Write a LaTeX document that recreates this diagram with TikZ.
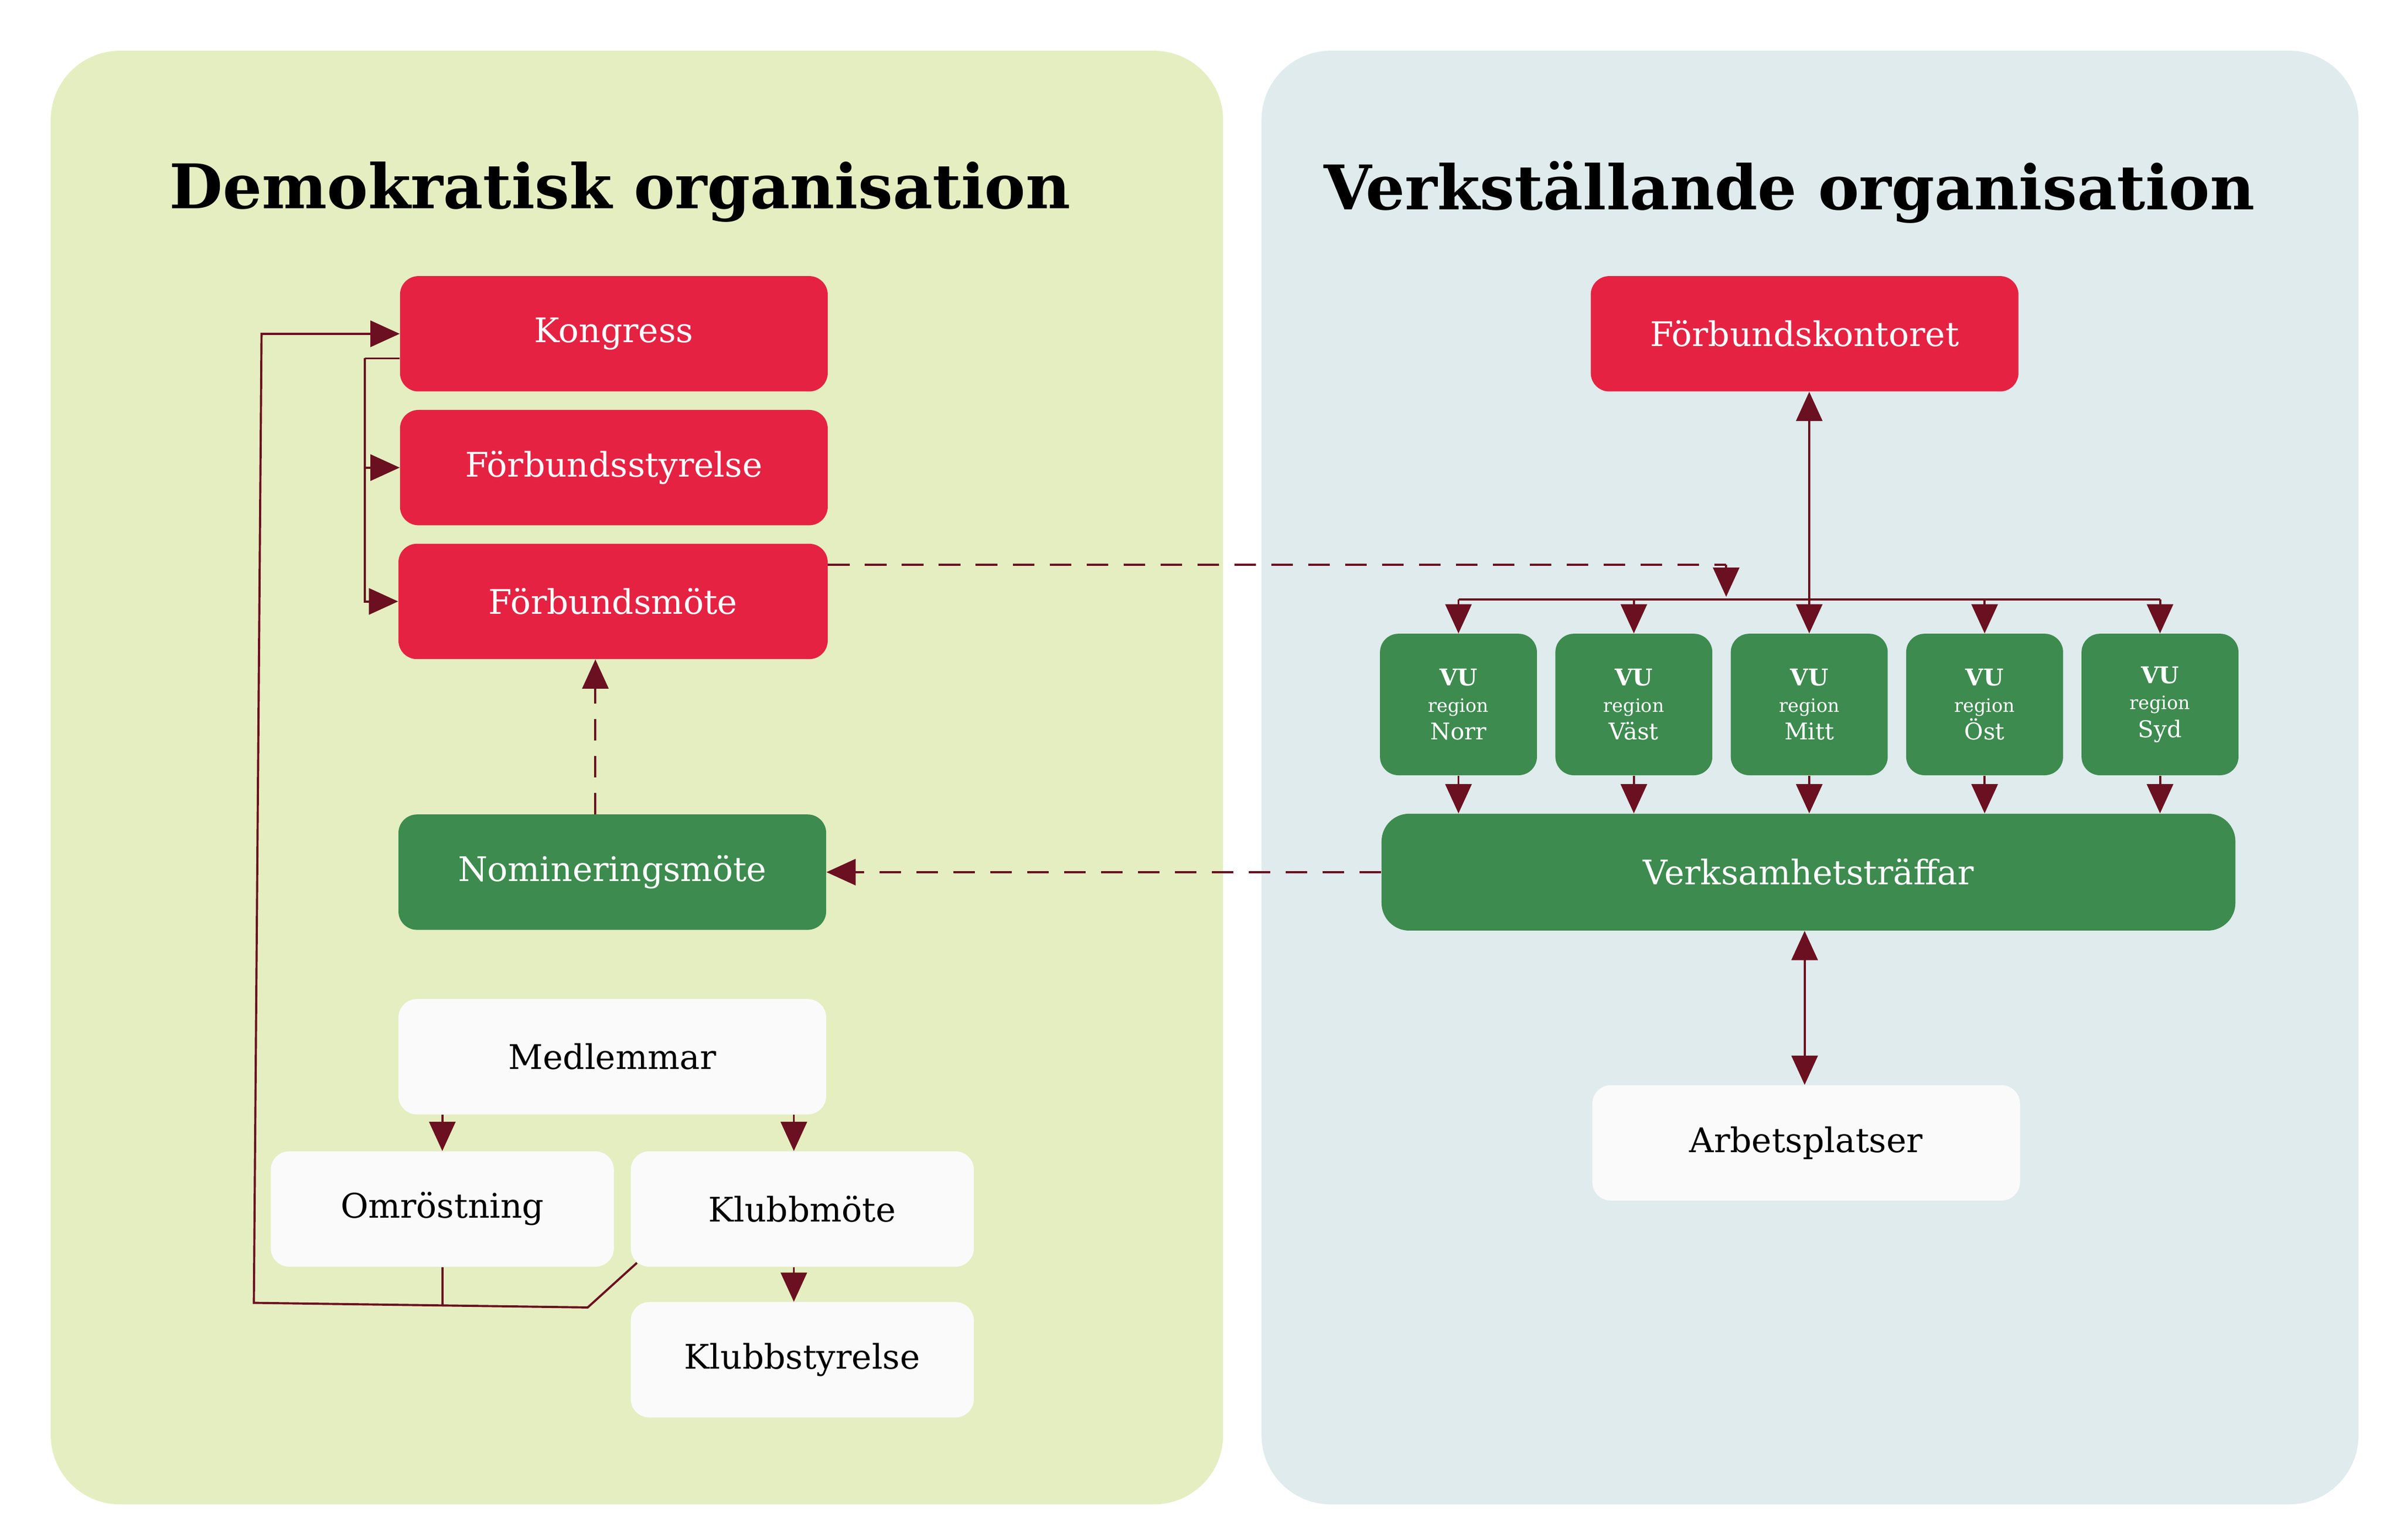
\documentclass[tikz,border=0pt]{standalone}
\usepackage{fontspec}
\setmainfont{DejaVu Serif}
\usetikzlibrary{arrows.meta,calc}
\definecolor{lg}{HTML}{E5EEC1}
\definecolor{lb}{HTML}{DFEBEC}
\definecolor{rd}{HTML}{E62243}
\definecolor{gr}{HTML}{3D8B4F}
\definecolor{wh}{HTML}{FAFAFA}
\definecolor{ln}{HTML}{6B1020}
\begin{document}
\begin{tikzpicture}[x=1pt,y=-1pt,
  box/.style={rounded corners=12pt,inner sep=0pt,anchor=center,font=\fontsize{22}{26}\selectfont},
  red/.style={box,fill=rd,text=white},
  grn/.style={box,fill=gr,text=white},
  wht/.style={box,fill=wh,text=black},
  con/.style={draw=ln,line width=1.4pt},
  arr/.style={con,-{Triangle[length=19pt,width=17pt]}},
  dsh/.style={arr,dash pattern=on 14pt off 10pt},
]
\useasboundingbox (0,0) rectangle (1560,1001);
\fill[white] (0,0) rectangle (1560,1001);
\fill[lg,rounded corners=45pt] (33,33) rectangle (795,978);
\fill[lb,rounded corners=45pt] (820,33) rectangle (1533,978);
\node[font=\bfseries\fontsize{40}{46}\selectfont] (t1) at (403,125) {Demokratisk organisation};
\node[font=\bfseries\fontsize{40}{46}\selectfont] (t2) at (1163,125) {Verkställande organisation};

\node[red,minimum width=278pt,minimum height=75pt] (kon) at (399,217) {Kongress};
\node[red,minimum width=278pt,minimum height=75pt] (fst) at (399,304) {Förbundsstyrelse};
\node[red,minimum width=279pt,minimum height=75pt] (fm) at (398.5,391) {Förbundsmöte};
\node[grn,minimum width=278pt,minimum height=75pt] (nom) at (398,567) {Nomineringsmöte};
\node[wht,minimum width=278pt,minimum height=75pt] (med) at (398,687) {Medlemmar};
\node[wht,minimum width=223pt,minimum height=75pt] (omr) at (287.5,786) {Omröstning};
\node[wht,minimum width=223pt,minimum height=75pt] (klm) at (521.5,786) {Klubbmöte};
\node[wht,minimum width=223pt,minimum height=75pt] (kls) at (521.5,884) {Klubbstyrelse};

\node[red,minimum width=278pt,minimum height=75pt] (fk) at (1173,217) {Förbundskontoret};
\foreach \n/\x/\t in {a/948/Norr,b/1062/Väst,c/1176/Mitt,d/1290/Öst,e/1404/Syd}{
  \node[grn,minimum width=102pt,minimum height=92pt,align=center,font=\fontsize{15}{19}\selectfont] (vu\n) at (\x,458)
   {\textbf{VU}\\[-2pt]{\fontsize{12}{15}\selectfont region}\\[-1pt]\t};
}
\node[grn,minimum width=555pt,minimum height=76pt,rounded corners=18pt] (vt) at (1175.5,567) {Verksamhetsträffar};
\node[wht,minimum width=278pt,minimum height=75pt] (arb) at (1174,743) {Arbetsplatser};

% left connectors
\coordinate (j1) at (237,233);
\coordinate (j2) at (237,304);
\draw[con] (kon.west|-j1) -- (j1);
\draw[arr] (j1) |- (fm.west);
\draw[arr] (j2) -- (fst.west);
\draw[arr] (med.south-|omr) -- (omr.north);
\draw[arr] ($(med.south)+(118,0)$) -- ($(klm.north)+(-5.5,0)$);
\draw[arr] ($(klm.south)+(-5.5,0)$) -- ($(kls.north)+(-5.5,0)$);
\coordinate (b0) at (414,821);
\coordinate (b1) at (382,850);
\coordinate (b2) at (165,847);
\coordinate (b3) at (170,217);
\draw[con] (omr.south) -- ++(0,25);
\draw[arr] (b0) -- (b1) -- (b2) -- (b3) -- (kon.west);
\draw[dsh] ($(nom.north)+(-11,0)$) -- ($(fm.south)+(-11.5,0)$);
\draw[dsh] (vt.west) -- (nom.east);
\coordinate (dj) at (1122,367);
\draw[con,dash pattern=on 14pt off 10pt] (fm.east|-dj) -- (dj);
\draw[arr] (dj) -- ++(0,21);

% right connectors
\draw[con] ($(vua.north)+(0,-22)$) -- ($(vue.north)+(0,-22)$);
\foreach \n in {a,b,c,d,e}{
  \draw[arr] ($(vu\n.north)+(0,-22)$) -- (vu\n.north);
  \draw[arr] (vu\n.south) -- (vu\n.south|-vt.north);
}
\draw[arr] ($(vuc.north)+(0,-22)$) -- ($(fk.south)+(3,0)$);
\draw[con,{Triangle[length=19pt,width=17pt]}-{Triangle[length=19pt,width=17pt]}] ($(vt.south)+(-2.5,0)$) -- ($(arb.north)+(-1,0)$);
\end{tikzpicture}
\end{document}
